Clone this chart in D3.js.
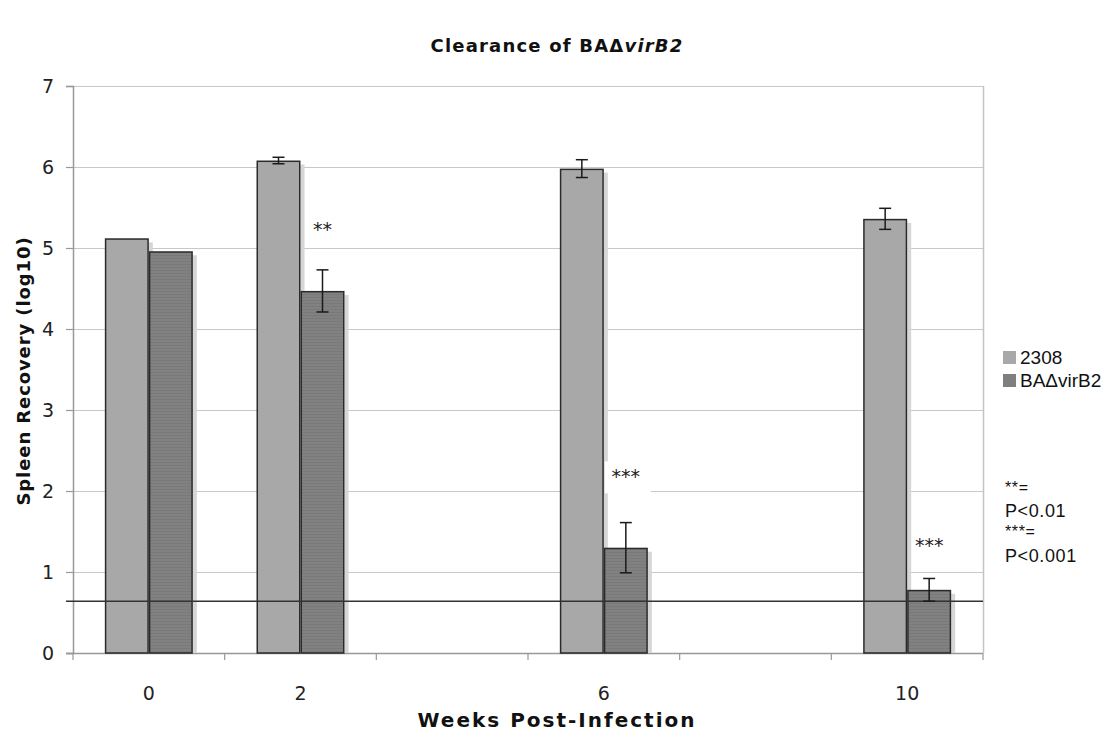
<!DOCTYPE html>
<html>
<head>
<meta charset="utf-8">
<script src="https://cdn.jsdelivr.net/npm/d3@7"></script>
<style>
  html, body { margin: 0; padding: 0; background: #fff; }
  svg { display: block; }
</style>
</head>
<body>
<svg id="chart" width="1115" height="734"></svg>
<script>
// Weeks post-infection (weeks 4 and 8 were not sampled)
const weeks = ["0", "2", "4", "6", "8", "10"];
const weekLabels = ["0", "2", "", "6", "", "10"];
const seriesNames = ["2308", "BA\u0394virB2"];
// Mean log10 CFU recovered per spleen
const wt2308 = [5.12, 6.08, null, 5.98, null, 5.36];
const virB2 = [4.96, 4.47, null, 1.30, null, 0.78];
// Standard errors
const wt2308Err = [0, 0.04, null, 0.11, null, 0.13];
const virB2Err = [0, 0.26, null, 0.31, null, 0.14];
// Significance markers over the mutant bars
const sigMarks = ["", "**", "", "***", "", "***"];
const sigValues = [null, 5.32, null, 2.28, null, 1.42];
// Limit of detection
const detectionLimit = 0.64;
const yTicks = [0, 1, 2, 3, 4, 5, 6, 7];
const footnotes = ["**=", "P<0.01", "***=", "P<0.001"];

const svg = d3.select("#chart");
const m = { left: 73, right: 983, top: 86, bottom: 653 };
const sans = "DejaVu Sans, Verdana, sans-serif";
const helv = "Liberation Sans, Arial, sans-serif";

const x = d3.scaleBand().domain(weeks).range([m.left, m.right]);
const x1 = d3.scaleBand().domain(seriesNames).range([0, 88]);
const y = d3.scaleLinear().domain([0, 7]).range([m.bottom, m.top]);
const colors = { "2308": "#a8a8a8", "BA\u0394virB2": "#7f7f7f" };

// Fine horizontal hatching used inside the mutant bars
const defs = svg.append("defs");
const pat = defs.append("pattern").attr("id", "hatch")
  .attr("patternUnits", "userSpaceOnUse").attr("width", 6).attr("height", 3);
pat.append("rect").attr("width", 6).attr("height", 3).attr("fill", "#818181");
pat.append("rect").attr("width", 6).attr("height", 1).attr("fill", "#797979");

// Gridlines
svg.append("g").selectAll("line").data(yTicks.slice(1)).join("line")
  .attr("x1", m.left).attr("x2", m.right)
  .attr("y1", d => y(d) + 0.5).attr("y2", d => y(d) + 0.5)
  .attr("stroke", "#c8c8c8").attr("stroke-width", 1);

// Right border of the plot area
svg.append("line")
  .attr("x1", m.right + 0.5).attr("x2", m.right + 0.5)
  .attr("y1", m.top).attr("y2", m.bottom)
  .attr("stroke", "#c4c4c4").attr("stroke-width", 1.5);

// Axes
const yAxis = d3.axisLeft(y).tickValues(yTicks).tickFormat(d3.format("d"))
  .tickSize(7).tickPadding(12);
const gy = svg.append("g").attr("transform", `translate(${m.left},0)`).call(yAxis);
gy.select(".domain").attr("stroke", "#999").attr("stroke-width", 1.5);
gy.selectAll(".tick line").attr("stroke", "#999").attr("stroke-width", 1.2);
gy.selectAll(".tick text").attr("font-family", sans)
  .attr("font-size", 19).attr("fill", "#222");

const xAxis = d3.axisBottom(x).tickSize(0).tickPadding(34)
  .tickFormat((d, i) => weekLabels[i]);
const gx = svg.append("g").attr("transform", `translate(0,${m.bottom})`).call(xAxis);
gx.select(".domain").remove();
gx.selectAll(".tick text").attr("font-family", sans)
  .attr("font-size", 19).attr("fill", "#222");
svg.append("line").attr("x1", m.left - 7).attr("x2", m.right)
  .attr("y1", m.bottom + 0.5).attr("y2", m.bottom + 0.5)
  .attr("stroke", "#999").attr("stroke-width", 1.5);
// Category separators on the x axis
svg.append("g").selectAll("line").data(weeks.concat(["end"])).join("line")
  .attr("x1", (d, i) => m.left + i * x.bandwidth())
  .attr("x2", (d, i) => m.left + i * x.bandwidth())
  .attr("y1", m.bottom).attr("y2", m.bottom + 7)
  .attr("stroke", "#999").attr("stroke-width", 1.2);

// Bars
const rows = [];
weeks.forEach((w, i) => {
  if (wt2308[i] != null) rows.push({ w, s: seriesNames[0], v: wt2308[i], e: wt2308Err[i] });
  if (virB2[i] != null) rows.push({ w, s: seriesNames[1], v: virB2[i], e: virB2Err[i] });
});
const bx = d => x(d.w) + (x.bandwidth() - 88) / 2 + x1(d.s);

// Drop shadows
svg.append("g").selectAll("rect").data(rows).join("rect")
  .attr("x", d => bx(d) + x1.bandwidth())
  .attr("y", d => y(d.v) + 4)
  .attr("width", 4)
  .attr("height", d => y(0) - y(d.v) - 4)
  .attr("fill", "#d6d6d6");

svg.append("g").selectAll("rect").data(rows).join("rect")
  .attr("x", d => bx(d) + 0.75)
  .attr("y", d => y(d.v) + 0.75)
  .attr("width", x1.bandwidth() - 1.5)
  .attr("height", d => y(0) - y(d.v) - 0.75)
  .attr("fill", d => d.s === seriesNames[1] ? "url(#hatch)" : colors[d.s])
  .attr("stroke", "#2a2a2a").attr("stroke-width", 1.5);

// Limit of detection line
svg.append("line").attr("x1", m.left - 7).attr("x2", m.right)
  .attr("y1", y(detectionLimit)).attr("y2", y(detectionLimit))
  .attr("stroke", "#333").attr("stroke-width", 1.5);

// Error bars
const errRows = rows.filter(d => d.e > 0);
const eg = svg.append("g").attr("stroke", "#1a1a1a").attr("stroke-width", 1.5);
errRows.forEach(d => {
  const cx = bx(d) + x1.bandwidth() / 2;
  eg.append("line").attr("x1", cx).attr("x2", cx)
    .attr("y1", y(d.v + d.e)).attr("y2", y(d.v - d.e));
  eg.append("line").attr("x1", cx - 6).attr("x2", cx + 6)
    .attr("y1", y(d.v + d.e)).attr("y2", y(d.v + d.e));
  eg.append("line").attr("x1", cx - 6).attr("x2", cx + 6)
    .attr("y1", y(d.v - d.e)).attr("y2", y(d.v - d.e));
});

// Significance markers
const sg = svg.append("g");
weeks.forEach((w, i) => {
  if (!sigMarks[i]) return;
  const cx = x(w) + (x.bandwidth() - 88) / 2 + x1(seriesNames[1]) + x1.bandwidth() / 2;
  if (w === "6") {
    // label box sits over the gridline
    sg.append("rect").attr("x", cx - 21).attr("y", y(sigValues[i]) - 7)
      .attr("width", 46).attr("height", 32).attr("fill", "#fff");
  }
  sg.append("text").attr("x", cx).attr("y", y(sigValues[i]))
    .attr("text-anchor", "middle").attr("dy", "0.75em")
    .attr("font-family", sans)
    .attr("font-size", 19).attr("fill", "#222")
    .text(sigMarks[i]);
});

// Title
const title = svg.append("text").attr("x", 557).attr("y", 52)
  .attr("text-anchor", "middle")
  .attr("font-family", sans).attr("letter-spacing", 1.2)
  .attr("font-weight", "bold").attr("font-size", 18).attr("fill", "#111");
title.append("tspan").text("Clearance of BA\u0394");
title.append("tspan").attr("font-style", "italic").text("virB2");

// Axis titles
svg.append("text").attr("x", 557).attr("y", 727)
  .attr("text-anchor", "middle")
  .attr("font-family", sans).attr("letter-spacing", 2)
  .attr("font-weight", "bold").attr("font-size", 20).attr("fill", "#111")
  .text("Weeks Post-Infection");
svg.append("text")
  .attr("transform", "translate(30,371) rotate(-90)")
  .attr("text-anchor", "middle")
  .attr("font-family", sans).attr("letter-spacing", 0.9)
  .attr("font-weight", "bold").attr("font-size", 18).attr("fill", "#111")
  .text("Spleen Recovery (log10)");

// Legend
const lg = svg.append("g").attr("transform", "translate(1003,351)");
seriesNames.forEach((s, i) => {
  lg.append("rect").attr("x", 0).attr("y", i * 23).attr("width", 13).attr("height", 13)
    .attr("fill", colors[s]);
  lg.append("text").attr("x", 17).attr("y", i * 23 + 13)
    .attr("font-family", helv)
    .attr("font-size", 19).attr("fill", "#111").text(s);
});

// Footnote on significance levels
const fy = [493, 517, 537, 562];
svg.append("g").selectAll("text").data(footnotes).join("text")
  .attr("x", 1005).attr("y", (d, i) => fy[i])
  .attr("font-family", helv).attr("letter-spacing", 0.6)
  .attr("font-size", d => d.startsWith("P") ? 18 : 16).attr("fill", "#111")
  .text(d => d);
</script>
</body>
</html>
